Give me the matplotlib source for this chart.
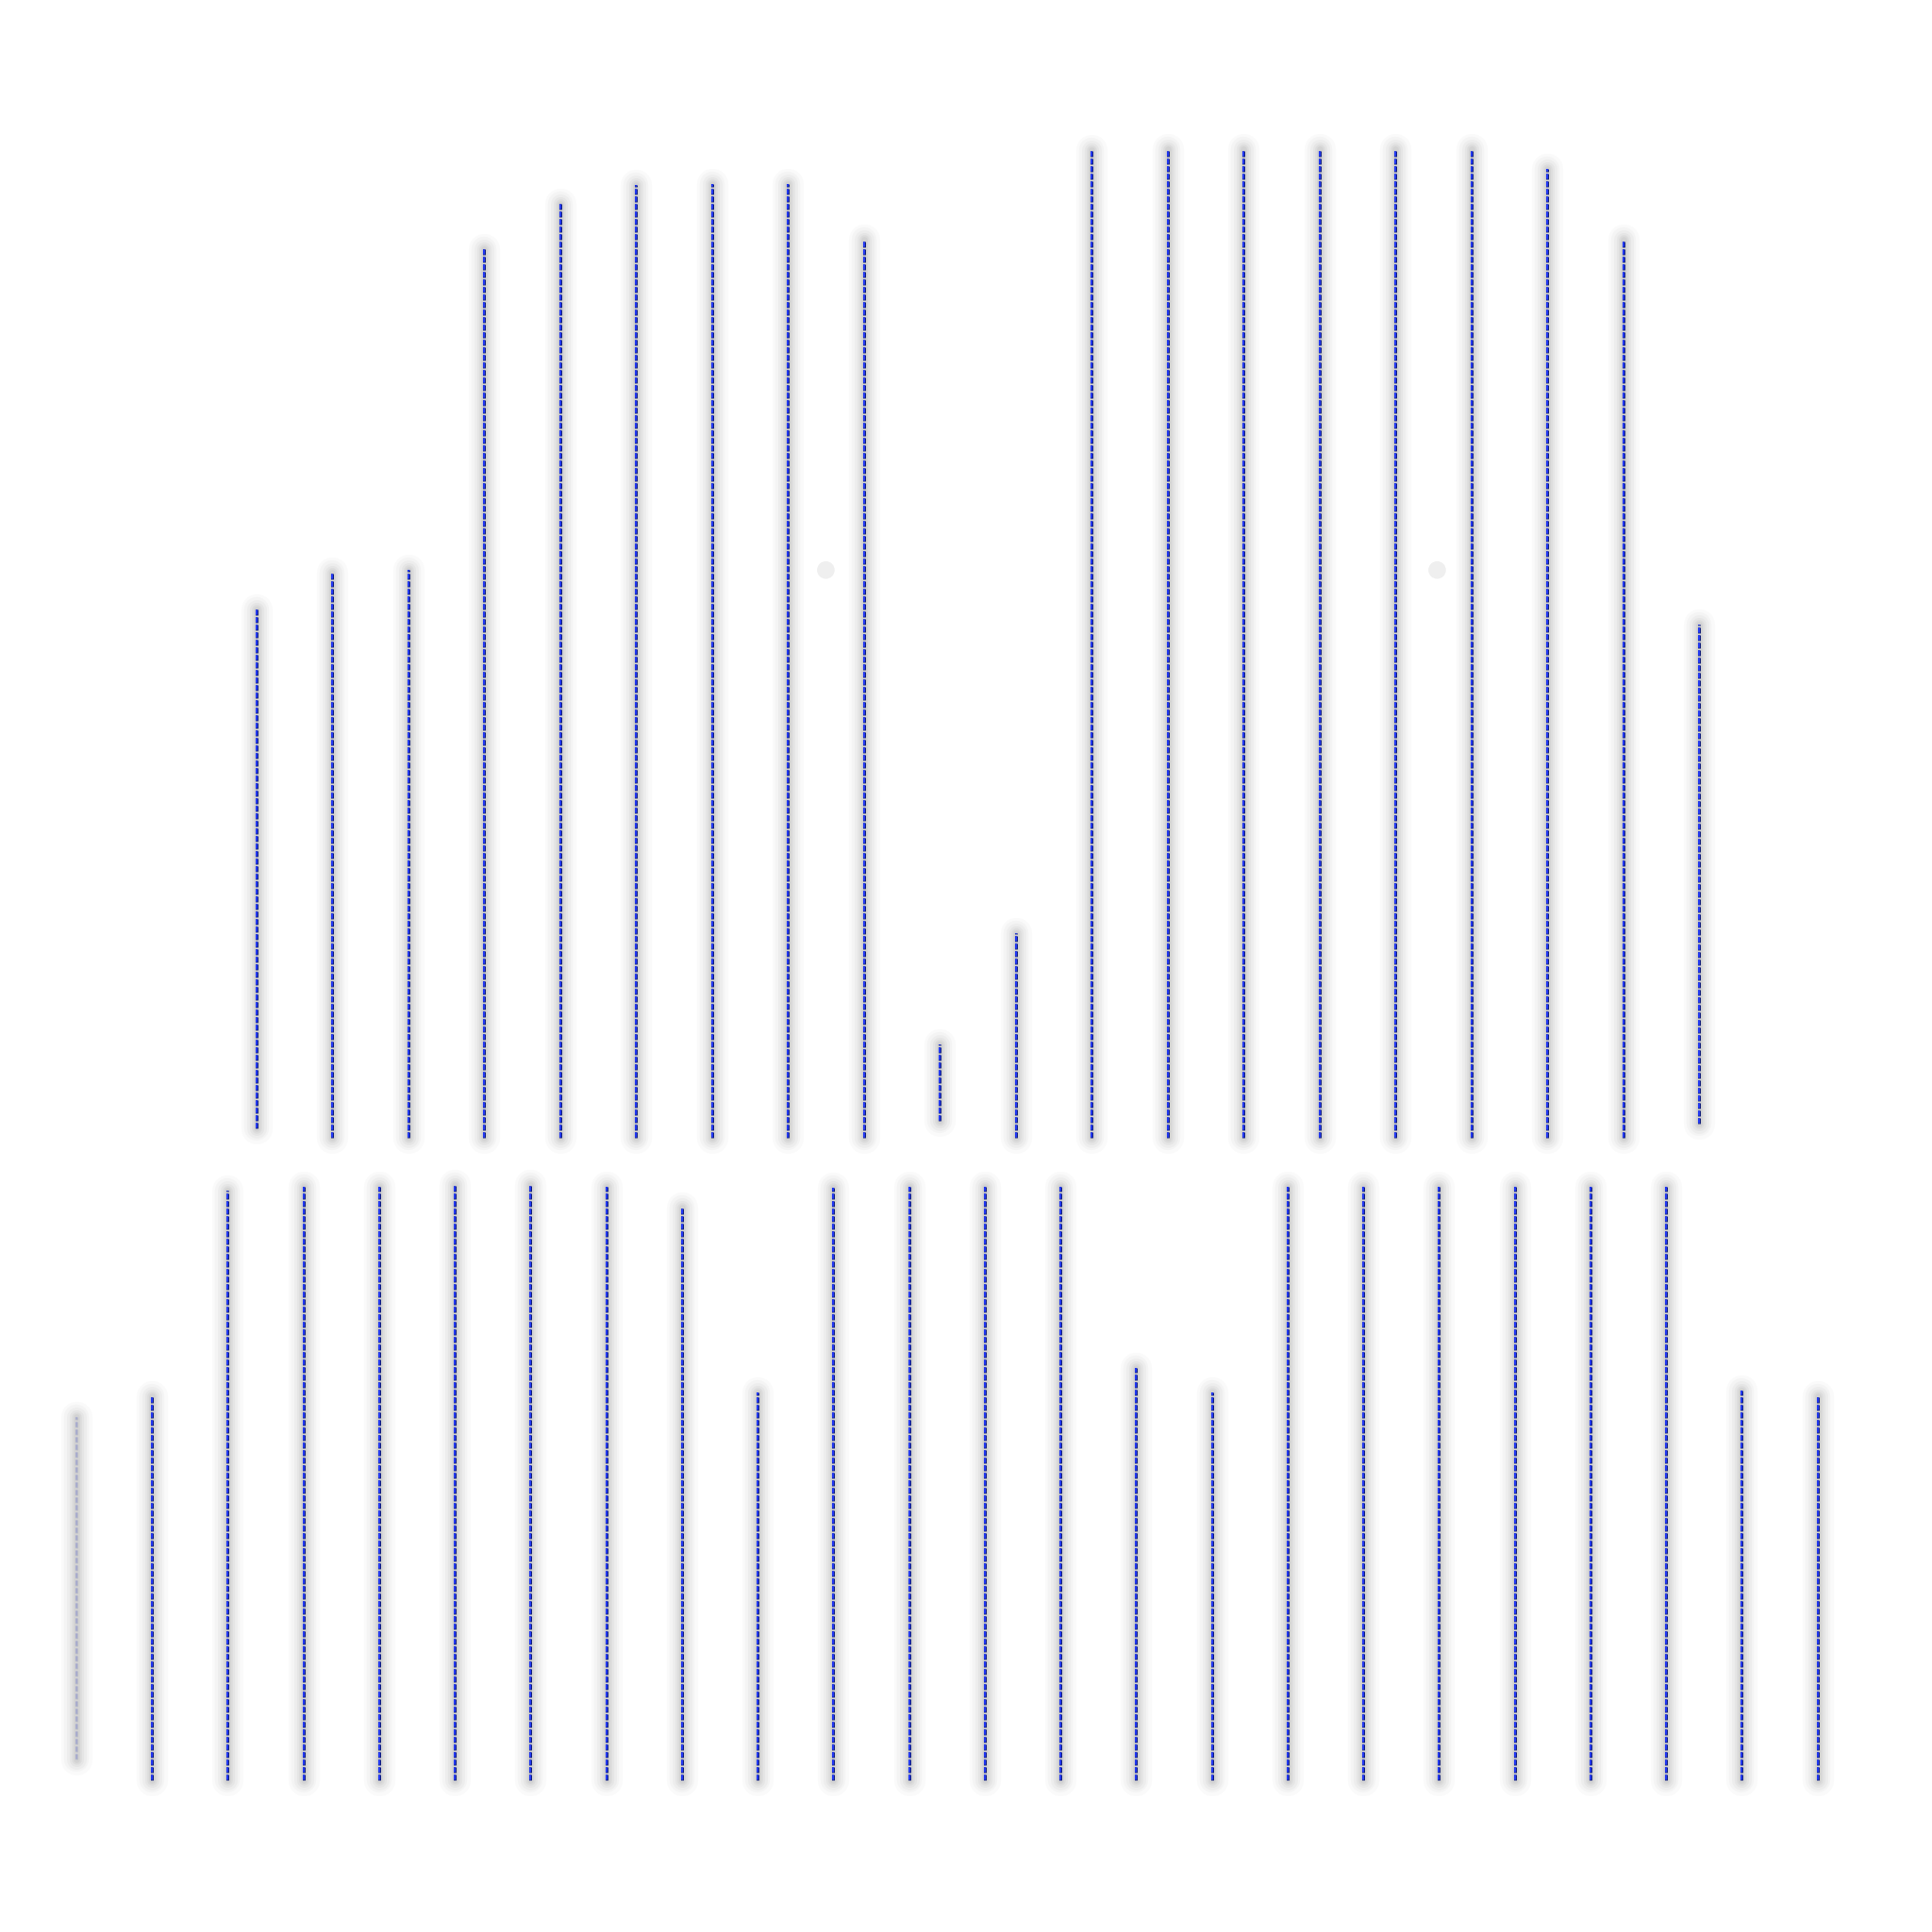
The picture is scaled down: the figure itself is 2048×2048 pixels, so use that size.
import matplotlib
matplotlib.use("Agg")
import matplotlib.pyplot as plt
import numpy as np

plt.rcParams["lines.scale_dashes"] = False

# ---- data ----
top_x = list(range(20))
top_low = [0.9, 0, 0, 0, 0, 0, 0, 0, 0, 1.7, 0, 0, 0, 0, 0, 0, 0, 0, 0, 1.4]
top_high = [53.4, 57.1, 57.4, 89.9, 94.5, 96.4, 96.5, 96.5, 90.8, 9.4,
            20.7, 99.9, 100, 100, 100, 100, 100, 98.0, 90.8, 51.9]

bot_x = list(range(24))
bot_low = [3.5] + [0] * 23
bot_high = [61.1, 64.6, 99.2, 99.8, 99.8, 100, 100, 99.8, 96.3, 65.2,
            99.6, 99.8, 99.8, 99.8, 69.4, 65.2, 99.8, 99.8, 99.8, 99.8,
            99.8, 99.8, 65.6, 64.6]
bot_alpha = [0.12] + [1.0] * 23

ghost_x = [7.5, 15.55]
ghost_y = [57.4, 57.4]

S = 1568.0
fig = plt.figure(figsize=(10.24, 10.24), dpi=200)

def make_axes(x0, x1, n, ybase, ytop):
    sp = (x1 - x0) / (n - 1)
    left = (x0 - sp / 2) / S
    width = n * sp / S
    bottom = 1 - ybase / S
    height = (ybase - ytop) / S
    ax = fig.add_axes([left, bottom, width, height])
    ax.set_xlim(-0.5, n - 0.5)
    ax.set_ylim(0, 100)
    ax.axis("off")
    return ax

ax_top = make_axes(208, 1379, 20, 923, 121)
ax_bot = make_axes(62, 1475, 24, 1445, 962)

def draw(ax, xs, lows, highs, alphas=None):
    if alphas is None:
        alphas = [1.0] * len(xs)
    for x, lo, hi, a in zip(xs, lows, highs, alphas):
        # soft glow
        for w, ga in [(12, 0.03), (9.5, 0.04), (7.5, 0.05), (5.5, 0.06),
                      (3.8, 0.07), (2.4, 0.08)]:
            ax.plot([x, x], [lo, hi], color="#707070", lw=w, alpha=ga,
                    solid_capstyle="round", clip_on=False, zorder=1)
        # dashes: dark outline + blue core
        ax.plot([x, x], [lo, hi], color="#14207a", lw=1.1, alpha=a,
                linestyle=(0, (2.16, 0.72)), dash_capstyle="butt",
                clip_on=False, zorder=2)
        ax.plot([x, x], [lo, hi], color="#2238f2", lw=0.75, alpha=a,
                linestyle=(2.76, (1.92, 0.96)), dash_capstyle="butt",
                clip_on=False, zorder=3)

draw(ax_top, top_x, top_low, top_high)
draw(ax_bot, bot_x, bot_low, bot_high, bot_alpha)

ax_top.scatter(ghost_x, ghost_y, s=45, color="#dcdcdc", alpha=0.45,
               edgecolors="none", clip_on=False)

fig.savefig("out.png", dpi=200, facecolor="white")
